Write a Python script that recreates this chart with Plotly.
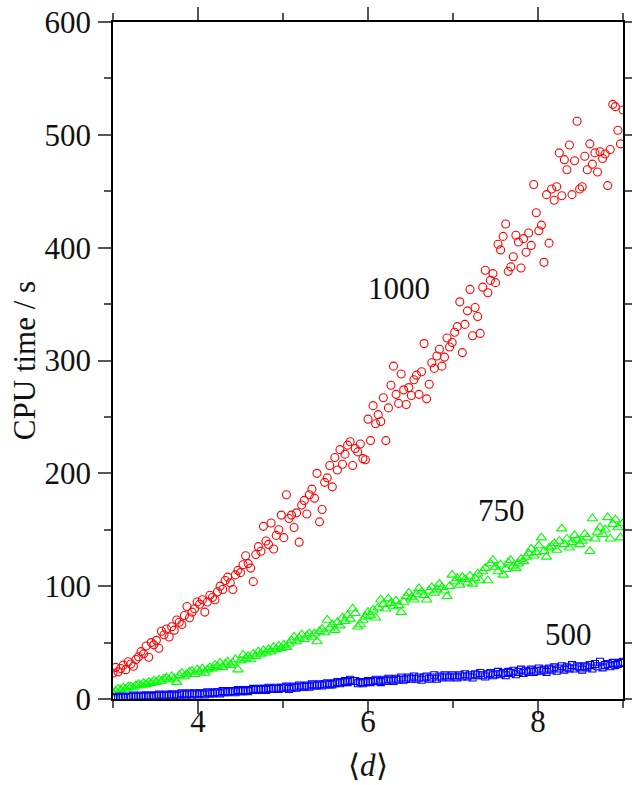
import numpy as np
import plotly.graph_objects as go

# <d> sampling grid (evenly spaced from 3 to 9)
D_MIN, D_MAX, N_PTS = 3.0, 9.0, 201
d_values = np.linspace(D_MIN, D_MAX, N_PTS)

series_labels = ["1000", "750", "500"]

cpu_1000 = [
    23, 28, 24, 27, 30, 26, 33, 31, 29, 35, 37.5,
    42, 40, 47, 37, 50, 48, 52, 45, 60, 57,
    62, 55, 64, 61, 70, 68, 66, 74, 82, 72,
    77, 80, 86, 84, 88, 77, 86, 92, 90, 88,
    95, 100, 97, 105, 108, 103, 97, 110, 114, 112,
    119, 127, 120, 116, 104, 128, 135, 131, 153, 140,
    137, 156, 133, 145, 150, 163, 143, 181, 160, 163,
    152, 165, 139, 172, 176, 164, 181, 186, 178, 200,
    157, 168, 192, 196, 207, 188, 214, 203, 221, 208,
    217, 225, 228, 207, 222, 219, 226, 213, 212, 248,
    229, 260, 244, 252, 246, 267, 229, 258, 278, 295,
    270, 262, 288, 274, 261, 276, 269, 283, 287, 270,
    290, 315, 266, 279, 298, 293, 304, 310, 295, 303,
    320, 312, 316, 325, 330, 352, 307, 332, 344, 363,
    322, 347, 339, 324, 365, 380, 360, 371, 377, 369,
    403, 398, 410, 421, 379, 383, 392, 411, 405, 382,
    408, 396, 413, 402, 456, 431, 415, 420, 387, 447,
    404, 452, 442, 454, 484, 446, 478, 469, 491, 447,
    477, 512, 452, 454, 481, 469, 492, 474, 484, 467,
    485, 479, 483, 455, 487, 527, 525, 504, 492, 522,
]

cpu_750 = [
    5, 7, 9, 8, 10, 9, 11, 11, 10, 12, 13,
    12, 14, 13, 15, 14, 16, 15, 17, 16, 18,
    19, 17, 20, 18, 15, 21, 23, 20, 22, 24,
    25, 22, 26, 24, 27, 23, 26, 28, 27, 30,
    29, 32, 28, 31, 33, 30, 32, 35, 26, 34,
    39, 36, 38, 35, 40, 38, 42, 40, 43, 41,
    44, 42, 46, 44, 47, 45, 48, 46, 49, 52,
    55, 51, 54, 57, 53, 56, 58, 55, 58, 51,
    60, 62, 59, 70, 63, 66, 61, 68, 65, 72,
    69, 74, 71, 80, 76, 64, 66, 70, 73, 77,
    74, 79, 72, 81, 88, 84, 80, 89, 85, 82,
    87, 83, 77, 86, 91, 94, 90, 88, 93, 98,
    95, 92, 88, 96, 99, 94, 97, 102, 99, 96,
    91, 100, 110, 104, 107, 101, 108, 106, 103, 109,
    102, 107, 111, 105, 113, 116, 105, 120, 123, 117,
    113, 119, 110, 115, 121, 123, 118, 116, 120, 124,
    122, 126, 129, 133, 127, 130, 136, 143, 131, 126,
    134, 135, 138, 132, 140, 151, 137, 142, 134, 139,
    145, 141, 137, 140, 146, 143, 131, 160, 142, 148,
    152, 146, 150, 161, 142, 155, 159, 152, 143, 156,
]

cpu_500 = [
    1, 2, 1, 2, 2, 1, 2, 2, 3, 2, 2,
    3, 2, 3, 3, 2, 3, 3, 4, 3, 3,
    4, 3, 4, 4, 3, 4, 5, 4, 4, 5,
    4, 5, 4, 5, 5, 4, 6, 5, 5, 6,
    6, 5, 7, 6, 6, 7, 7, 6, 8, 7,
    7, 8, 7, 8, 9, 8, 8, 9, 9, 8,
    10, 9, 9, 10, 9, 10, 10, 11, 9, 10,
    11, 10, 12, 11, 11, 12, 11, 13, 12, 12,
    13, 12, 13, 14, 13, 13, 14, 15, 14, 15,
    16, 15, 17, 16, 16, 14, 15, 14, 15, 16,
    15, 16, 17, 16, 15, 17, 16, 18, 17, 16,
    18, 17, 19, 17, 18, 19, 18, 20, 18, 19,
    17, 19, 20, 18, 19, 21, 18, 20, 19, 21,
    20, 19, 21, 20, 19, 21, 20, 22, 20, 21,
    19, 22, 21, 23, 21, 20, 22, 23, 21, 22,
    24, 22, 23, 21, 24, 23, 25, 22, 24, 26,
    23, 25, 24, 26, 24, 25, 27, 25, 26, 24,
    27, 26, 28, 25, 27, 29, 26, 28, 27, 30,
    27, 29, 28, 26, 29, 28, 30, 27, 31, 29,
    33, 28, 30, 31, 29, 32, 30, 31, 32, 33,
]

x_major = [4, 6, 8]
x_minor = [3, 5, 7, 9]
y_major = [0, 100, 200, 300, 400, 500, 600]
y_minor = [50, 150, 250, 350, 450, 550]

# label positions (data coords)
label_x = [6.36, 7.57, 8.36]
label_y = [364, 167, 57]

FONT = "Liberation Serif"
FS = 31
TXT = "#111"
TICKC = "#555"

fig = go.Figure()
fig.add_trace(go.Scatter(
    x=d_values[:len(cpu_1000)], y=cpu_1000, mode="markers", name=series_labels[0],
    marker=dict(symbol="circle-open", size=8, color="#ff0000", line=dict(width=1.1)),
))
fig.add_trace(go.Scatter(
    x=d_values[:len(cpu_750)], y=cpu_750, mode="markers", name=series_labels[1],
    marker=dict(symbol="triangle-up-open", size=9, color="#00ff00", line=dict(width=1.1)),
))
fig.add_trace(go.Scatter(
    x=d_values[:len(cpu_500)], y=cpu_500, mode="markers", name=series_labels[2],
    marker=dict(symbol="square-open", size=7, color="#0000ff", line=dict(width=1.1)),
))
# empty trace so the mirrored (top / right) axes are drawn
fig.add_trace(go.Scatter(x=[], y=[], xaxis="x2", yaxis="y2", mode="markers",
                         showlegend=False, hoverinfo="skip"))

for lab, lx, ly in zip(series_labels, label_x, label_y):
    fig.add_annotation(x=lx, y=ly, text=lab, showarrow=False,
                       font=dict(family=FONT, size=FS, color=TXT))

# x-axis title placed as an annotation just below the tick labels
fig.add_annotation(x=0.5, y=-0.0975, xref="paper", yref="paper",
                   xanchor="center", yanchor="middle", showarrow=False,
                   text="⟨<i>d</i>⟩", font=dict(family=FONT, size=FS, color=TXT))

common = dict(
    showline=True, linecolor="black", linewidth=1.5,
    ticks="outside", tickcolor=TICKC, tickwidth=1.5, ticklen=13,
    showgrid=False, zeroline=False, automargin=False,
    ticklabeloverflow="allow",
    tickfont=dict(family=FONT, size=FS, color=TXT),
)

fig.update_layout(
    xaxis=dict(
        range=[3, 9], tickmode="array", tickvals=x_major, side="bottom",
        minor=dict(tickmode="array", tickvals=x_minor, ticklen=7,
                   tickcolor=TICKC, tickwidth=1.5, ticks="outside"),
        ticklabelstandoff=-19,
        **common,
    ),
    yaxis=dict(
        range=[0, 600], tickmode="array", tickvals=y_major,
        minor=dict(tickmode="array", tickvals=y_minor, ticklen=7,
                   tickcolor=TICKC, tickwidth=1.5, ticks="outside"),
        ticklabelstandoff=1,
        title=dict(text="CPU time / s", font=dict(family=FONT, size=FS, color=TXT), standoff=0),
        **common,
    ),
    xaxis2=dict(
        range=[3, 9], tickmode="array", tickvals=x_major, side="top",
        overlaying="x", anchor="y", showticklabels=False,
        minor=dict(tickmode="array", tickvals=x_minor, ticklen=7,
                   tickcolor=TICKC, tickwidth=1.5, ticks="outside"),
        **common,
    ),
    yaxis2=dict(
        range=[0, 600], tickmode="array", tickvals=y_major, side="right",
        overlaying="y", anchor="x", showticklabels=False,
        minor=dict(tickmode="array", tickvals=y_minor, ticklen=7,
                   tickcolor=TICKC, tickwidth=1.5, ticks="outside"),
        **common,
    ),
    width=632, height=785,
    margin=dict(l=113, r=9, t=22, b=86),
    paper_bgcolor="white", plot_bgcolor="white",
    showlegend=False,
)

# remove the default page margin so the figure fills the window exactly
fig.write_html("out.html",
               config={"displayModeBar": False},
               post_script="document.body.style.margin='0';document.body.style.overflow='hidden';")
